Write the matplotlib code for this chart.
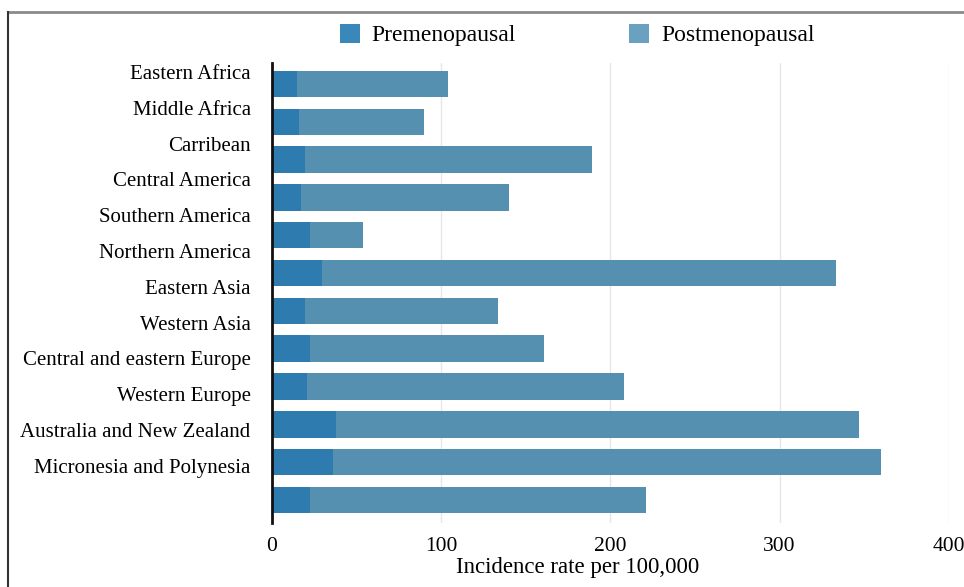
import numpy as np
import matplotlib
matplotlib.use("Agg")
import matplotlib.pyplot as plt
from matplotlib.patches import Patch
from matplotlib.lines import Line2D

# region labels (12, as printed)
regions = ["Eastern Africa", "Middle Africa", "Carribean", "Central America",
           "Southern America", "Northern America", "Eastern Asia", "Western Asia",
           "Central and eastern Europe", "Western Europe",
           "Australia and New Zealand", "Micronesia and Polynesia"]

# bar values (top to bottom)
premenopausal = [15, 16.5, 20, 17.5, 23, 30, 20, 22.5, 21, 38, 36.5, 23]
total_rate = [104, 90, 189, 140, 54, 333, 134, 161, 208, 347, 360, 221]
postmenopausal = [t - p for t, p in zip(total_rate, premenopausal)]

xticks = [0, 100, 200, 300, 400]

pre_color = "#2e7bb0"
post_color = "#5690b0"

plt.rcParams['font.family'] = ['Liberation Serif', 'DejaVu Serif']

fig = plt.figure(figsize=(9.64, 5.87), dpi=100)
ax = fig.add_axes([271.5 / 964, 1 - 523 / 587, (949 - 271.5) / 964, (523 - 63) / 587])

y = np.arange(len(premenopausal))
ax.barh(y, premenopausal, height=0.70, color=pre_color, zorder=3)
ax.barh(y, postmenopausal, left=premenopausal, height=0.70, color=post_color, zorder=3)

ax.set_xlim(0, 400)
ax.set_ylim(11.61, -0.556)
ax.set_xticks(xticks)
ax.set_xticklabels([str(v) for v in xticks], fontsize=15.5)

# labels in the source sit slightly off the bars
label_pos = np.arange(len(regions)) * 0.947 - 0.32
ax.set_yticks(label_pos)
ax.set_yticklabels(regions, fontsize=15)
ax.tick_params(axis='y', length=0, pad=15)
ax.tick_params(axis='x', length=0, pad=10)

ax.grid(axis='x', color='#e6e6e6', linewidth=1, zorder=0)
for s in ['top', 'right', 'bottom']:
    ax.spines[s].set_visible(False)
ax.spines['left'].set_linewidth(2)
ax.spines['left'].set_color('#111111')
ax.spines['left'].set_zorder(4)

ax.set_xlabel("Incidence rate per 100,000", fontsize=16.5, va='center')
ax.xaxis.set_label_coords((578 - 271.5) / 677.5, -(568 - 523) / 460)

# legend on top
fig.legend(handles=[Patch(facecolor="#3a88ba", label="Premenopausal"),
                    Patch(facecolor="#6aa0c0", label="Postmenopausal")],
           loc='center', bbox_to_anchor=(577 / 964, 1 - 35 / 587), ncol=2,
           frameon=False, fontsize=17, handlelength=0.85, handleheight=0.85,
           columnspacing=4.8, handletextpad=0.5)

# frame around the figure (top and left only)
fig.add_artist(Line2D([8 / 964, 1], [1 - 12 / 587, 1 - 12 / 587], color='#8a8a8a', linewidth=2,
                      transform=fig.transFigure))
fig.add_artist(Line2D([8 / 964, 8 / 964], [0, 1 - 12 / 587], color='#333333', linewidth=1.5,
                      transform=fig.transFigure))

fig.savefig("out.png", dpi=100)
